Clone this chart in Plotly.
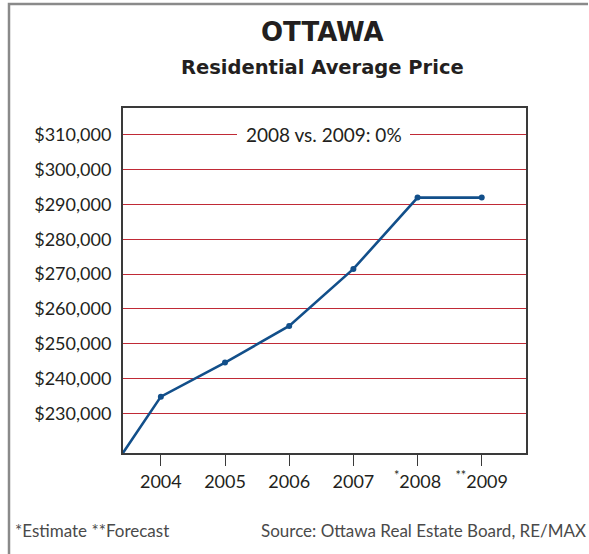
import plotly.graph_objects as go

# Ottawa residential average price
years = [2003, 2004, 2005, 2006, 2007, 2008, 2009]
avg_price = [207400, 234800, 244600, 255100, 271500, 292000, 292000]

tick_years = [2004, 2005, 2006, 2007, 2008, 2009]
tick_labels = ['2004', '2005', '2006', '2007', '<sup>*</sup>2008', '<sup>**</sup>2009']
price_ticks = [230000, 240000, 250000, 260000, 270000, 280000, 290000, 300000, 310000]

W, H = 589, 554
L, R, T, B = 123, 63, 108, 101
PW, PH = W - L - R, H - T - B


def px_x(x):
    return (x - L) / PW


def px_y(y):
    return (H - B - y) / PH


FONT = "Lato, 'Open Sans', sans-serif"
TITLE_FONT = "'DejaVu Sans', sans-serif"
TEXT = '#231f20'
GRID = '#c02a36'
LINE = '#124f8a'

fig = go.Figure()
fig.add_trace(go.Scatter(
    x=years, y=avg_price,
    mode='lines+markers',
    line=dict(color=LINE, width=2.6),
    marker=dict(color=LINE, size=6),
    cliponaxis=True,
    showlegend=False,
))

fig.update_layout(
    width=W, height=H,
    margin=dict(l=L, r=R, t=T, b=B),
    plot_bgcolor='white',
    paper_bgcolor='white',
    font=dict(family=FONT, size=18, color=TEXT),
)

fig.update_xaxes(
    range=[2003.41, 2009.69],
    tickvals=tick_years, ticktext=tick_labels,
    ticks='outside', ticklen=11, tickwidth=1.3, tickcolor='#3a3a3a',
    showgrid=False, zeroline=False,
    showline=True, linecolor='#3a3a3a', linewidth=2, mirror=True,
    tickfont=dict(size=18, color=TEXT),
)
fig.update_yaxes(
    range=[218600, 317750],
    tickvals=price_ticks,
    ticktext=['${:,}'.format(v) for v in price_ticks],
    ticks='', ticklabelstandoff=6,
    showgrid=True, gridcolor=GRID, gridwidth=1.2,
    zeroline=False,
    showline=True, linecolor='#3a3a3a', linewidth=2, mirror=True,
    tickfont=dict(size=18, color=TEXT),
)

# titles
fig.add_annotation(text='<b>OTTAWA</b>', x=px_x(322), y=px_y(32),
                   xref='paper', yref='paper', showarrow=False, yanchor='middle',
                   font=dict(size=26, color=TEXT, family=TITLE_FONT))
fig.add_annotation(text='<b>Residential Average Price</b>', x=px_x(322), y=px_y(68),
                   xref='paper', yref='paper', showarrow=False, yanchor='middle',
                   font=dict(size=19.5, color=TEXT, family=TITLE_FONT))

# in-plot note sitting on the top gridline
fig.add_shape(type='rect', xref='paper', yref='y',
              x0=px_x(237), x1=px_x(410), y0=308800, y1=311200,
              fillcolor='white', line=dict(width=0), layer='above')
fig.add_annotation(text='2008 vs. 2009: 0%', x=px_x(324), y=310000,
                   xref='paper', yref='y', showarrow=False, yanchor='middle',
                   font=dict(size=19, color=TEXT, family=FONT))

# footer
fig.add_annotation(text='*Estimate **Forecast', x=px_x(13), y=px_y(530),
                   xref='paper', yref='paper', xanchor='left', yanchor='middle',
                   showarrow=False,
                   font=dict(size=17, color='#4a4a4a', family=FONT))
fig.add_annotation(text='Source: Ottawa Real Estate Board, RE/MAX', x=px_x(588), y=px_y(530),
                   xref='paper', yref='paper', xanchor='right', yanchor='middle',
                   showarrow=False,
                   font=dict(size=17, color='#4a4a4a', family=FONT))

# outer frame (left and top edges)
fig.add_shape(type='path', xref='paper', yref='paper',
              path=f'M {px_x(9)} {px_y(560)} L {px_x(9)} {px_y(4)} L {px_x(588)} {px_y(4)}',
              line=dict(color='#8a8a8a', width=2.5))

fig.write_html("out.html", config={'displayModeBar': False},
               post_script="document.body.style.margin='0';")
